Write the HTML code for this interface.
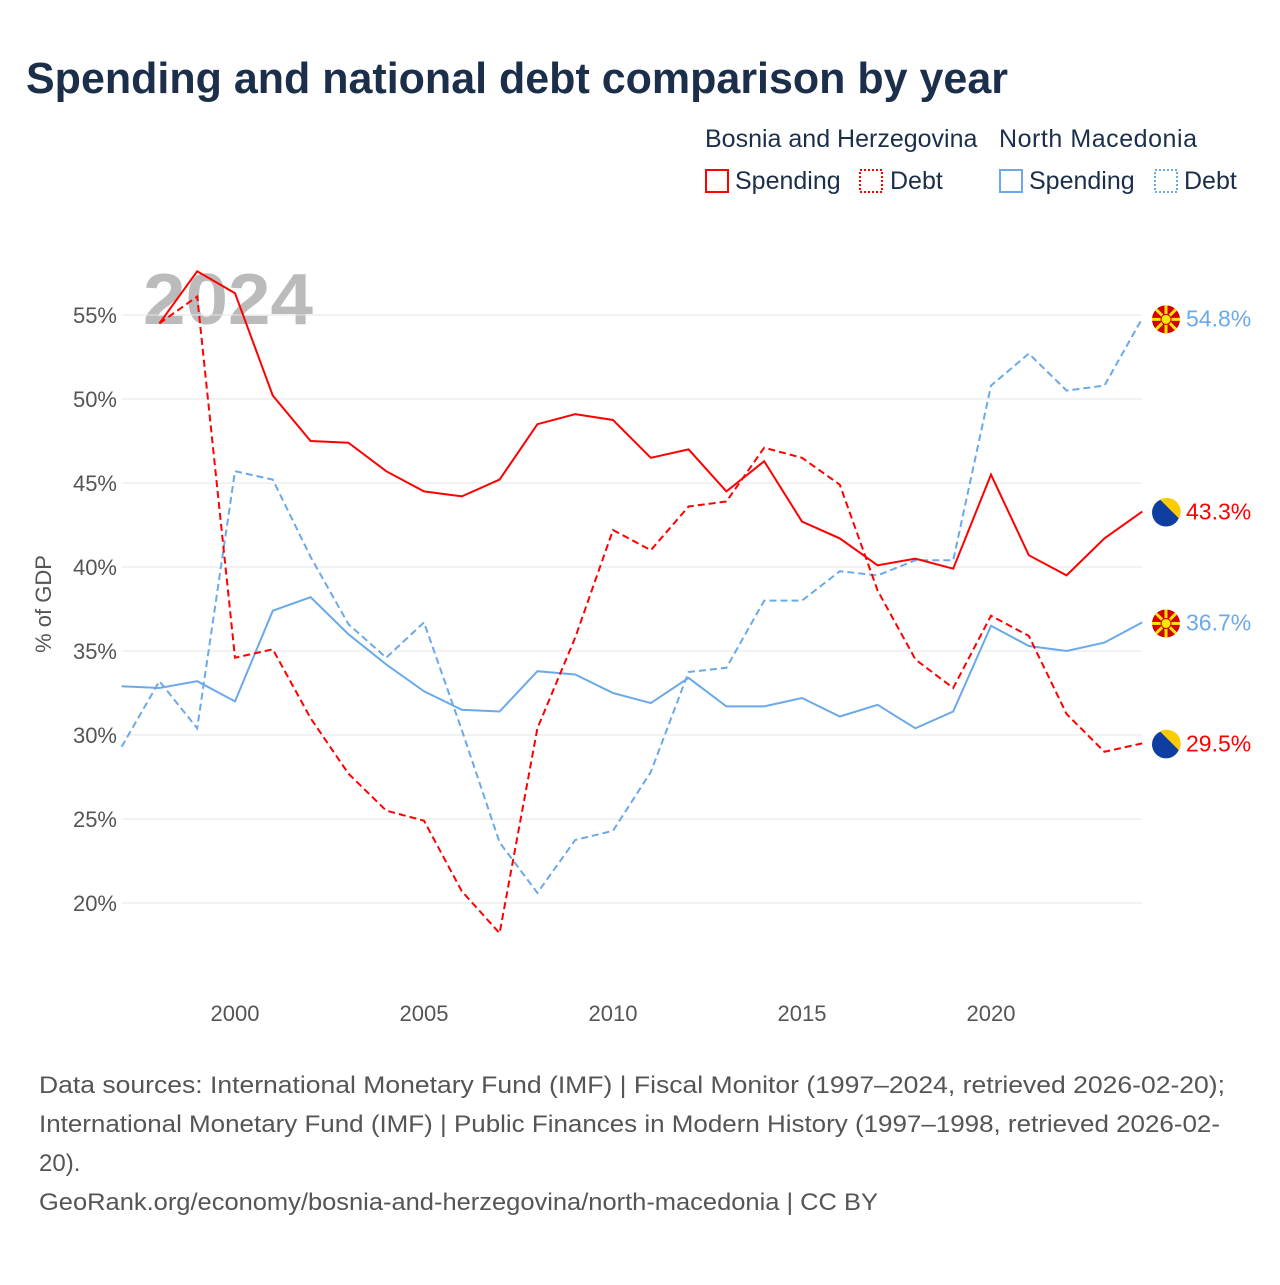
<!DOCTYPE html>
<html><head><meta charset="utf-8"><style>
body{margin:0;background:#fff;}
svg text{font-family:"Liberation Sans",sans-serif;}
</style></head><body>
<svg width="1280" height="1280" viewBox="0 0 1280 1280" xmlns="http://www.w3.org/2000/svg">
<rect width="1280" height="1280" fill="#fff"/>
<text x="26" y="93" font-size="44" font-weight="bold" fill="#1b2f4b" textLength="982" lengthAdjust="spacingAndGlyphs">Spending and national debt comparison by year</text>
<g font-size="25" fill="#1b2f4b">
<text x="705" y="147">Bosnia and Herzegovina</text>
<text x="999" y="147" textLength="198">North Macedonia</text>
<g><rect x="706" y="170" width="22" height="22" fill="none" stroke="#f00" stroke-width="2"/><text x="735" y="189">Spending</text></g>
<g><rect x="860" y="170" width="22" height="22" fill="none" stroke="#f00" stroke-width="2" stroke-dasharray="2,2"/><text x="890" y="189">Debt</text></g>
<g><rect x="1000" y="170" width="22" height="22" fill="none" stroke="#6aa9ea" stroke-width="2"/><text x="1029" y="189">Spending</text></g>
<g><rect x="1155" y="170" width="22" height="22" fill="none" stroke="#6aa9ea" stroke-width="2" stroke-dasharray="2,2"/><text x="1184" y="189">Debt</text></g>
</g>
<text x="143" y="324" font-size="72" font-weight="bold" fill="#bbb" textLength="170" lengthAdjust="spacingAndGlyphs">2024</text>
<g id="grid"></g>
<g id="series"></g>
<g id="labels"></g>
<text transform="translate(51,604) rotate(-90)" text-anchor="middle" font-size="22" fill="#555">% of GDP</text>
<g font-size="24" fill="#555" lengthAdjust="spacingAndGlyphs">
<text x="39" y="1093" textLength="1186" lengthAdjust="spacingAndGlyphs">Data sources: International Monetary Fund (IMF) | Fiscal Monitor (1997–2024, retrieved 2026-02-20);</text>
<text x="39" y="1132" textLength="1181" lengthAdjust="spacingAndGlyphs">International Monetary Fund (IMF) | Public Finances in Modern History (1997–1998, retrieved 2026-02-</text>
<text x="39" y="1171">20).</text>
<text x="39" y="1210" textLength="839" lengthAdjust="spacingAndGlyphs">GeoRank.org/economy/bosnia-and-herzegovina/north-macedonia | CC BY</text>
</g>
</svg>
<script>
const years=[1997,1998,1999,2000,2001,2002,2003,2004,2005,2006,2007,2008,2009,2010,2011,2012,2013,2014,2015,2016,2017,2018,2019,2020,2021,2022,2023,2024];
const bihSpending=[null,54.5,57.6,56.3,50.2,47.5,47.4,45.7,44.5,44.2,45.2,48.5,49.1,48.75,46.5,47.0,44.5,46.3,42.7,41.7,40.1,40.5,39.9,45.5,40.7,39.5,41.7,43.3];
const bihDebt=[null,54.5,56.1,34.6,35.1,31.0,27.7,25.5,24.9,20.7,18.2,30.4,35.8,42.2,41.0,43.6,43.9,47.1,46.5,44.9,38.6,34.5,32.8,37.1,35.9,31.25,29.0,29.5];
const mkdSpending=[32.9,32.8,33.2,32.0,37.4,38.2,36.0,34.2,32.6,31.5,31.4,33.8,33.6,32.5,31.9,33.4,31.7,31.7,32.2,31.1,31.8,30.4,31.4,36.5,35.3,35.0,35.5,36.7];
const mkdDebt=[29.3,33.2,30.4,45.7,45.2,40.6,36.6,34.6,36.7,30.3,23.6,20.6,23.75,24.3,27.8,33.75,34.0,38.0,38.0,39.75,39.5,40.4,40.4,50.8,52.7,50.5,50.8,54.8];
const yTicks=[20,25,30,35,40,45,50,55];
const xTicks=[2000,2005,2010,2015,2020];
const NS='http://www.w3.org/2000/svg';
const X=yr=>235+(yr-2000)*37.8;
const Y=v=>903-(v-20)*16.8;
function mk(t,a,p){const e=document.createElementNS(NS,t);for(const k in a)e.setAttribute(k,a[k]);p.appendChild(e);return e;}
const grid=document.getElementById('grid');
yTicks.forEach(v=>{
 const l=mk('line',{x1:X(1997),x2:X(2024),y1:Y(v),y2:Y(v),stroke:'#e6e6e6','stroke-width':1},grid);
 
 
 const t=mk('text',{x:117,y:Y(v)+8,'text-anchor':'end','font-size':22,fill:'#555'},grid);t.textContent=v+'%';
 
 
});
xTicks.forEach(yr=>{
 const t=mk('text',{x:X(yr),y:1021,'text-anchor':'middle','font-size':22,fill:'#555'},grid);t.textContent=yr;
 
 
});
const ser=document.getElementById('series');
function line(vals,color,dash,name){
 let d='';vals.forEach((v,i)=>{if(v==null)return;d+=(d?'L':'M')+X(years[i]).toFixed(1)+','+Y(v).toFixed(1);});
 const p=mk('path',{d:d,fill:'none',stroke:color,'stroke-width':2,'stroke-dasharray':dash||'none'},ser);
 
 
}
line(mkdDebt,'#6aa9ea','7,4','line-mkd-debt');
line(mkdSpending,'#6aa9ea','','line-mkd-spending');
line(bihDebt,'#f00','7,4','line-bih-debt');
line(bihSpending,'#f00','','line-bih-spending');
const lab=document.getElementById('labels');
function flag(cx,cy,type){
 const g=mk('g',{},lab);
 if(type==='mkd'){
  mk('circle',{cx:cx,cy:cy,r:14,fill:'#d20000'},g);
  for(let a=0;a<8;a++){const an=a*Math.PI/4;mk('line',{x1:cx,y1:cy,x2:cx+14*Math.cos(an),y2:cy+14*Math.sin(an),stroke:'#ffe600','stroke-width':3},g);}
  mk('circle',{cx:cx,cy:cy,r:5,fill:'#ffe600',stroke:'#d20000','stroke-width':1},g);
 }else{
  mk('circle',{cx:cx,cy:cy,r:14,fill:'#0d3ea0'},g);
  mk('path',{d:`M${cx-6},${cy-13} L${cx+13},${cy+6} A14,14 0 0 0 ${cx-6},${cy-13}Z`,fill:'#fecb00'},g);
 }
 return g;
}
const ends=[[mkdDebt,'mkd','#6aa9ea','mkd-debt'],[bihSpending,'bih','#f00','bih-spending'],[mkdSpending,'mkd','#6aa9ea','mkd-spending'],[bihDebt,'bih','#f00','bih-debt']];
ends.forEach(([arr,f,c,n])=>{
 const v=arr[arr.length-1];const y=Y(v);
 const g=flag(1166,y+1,f);
 
 
 const t=mk('text',{x:1186,y:y+8,'font-size':23,fill:c},lab);t.textContent=v.toFixed(1)+'%';
 
 
});
</script>
</body></html>
